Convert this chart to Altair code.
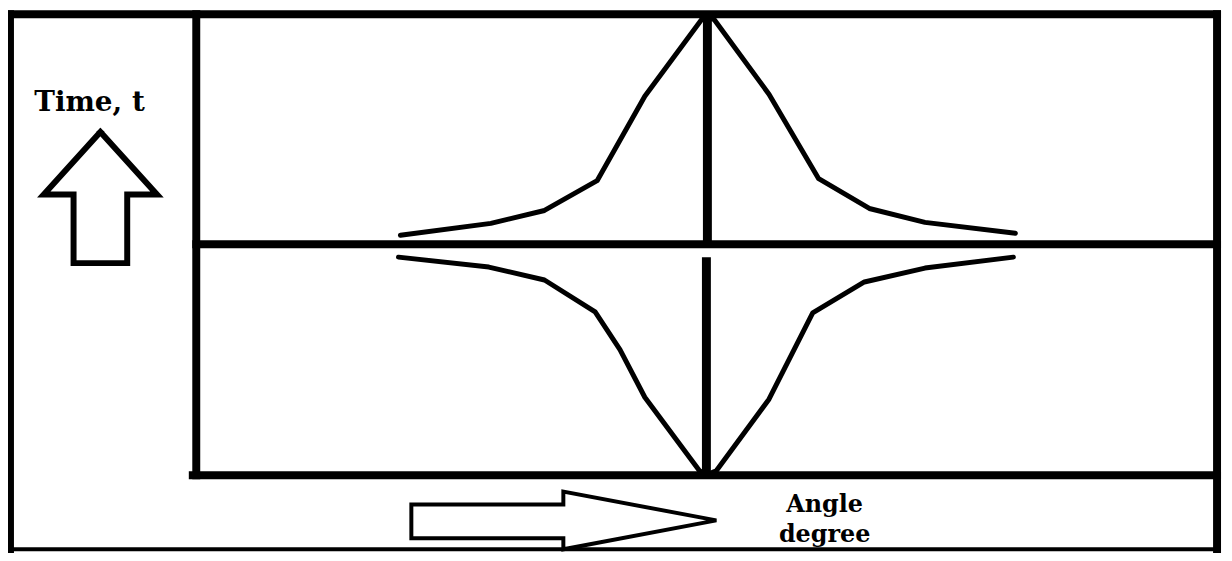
import altair as alt
import pandas as pd

# ---- diagram values (reference pixel units: x = angle axis, y = time axis, downward) ----
# peaked profile, upper half (time increasing toward the centre angle)
top_left_x = [403, 494, 548, 601, 649, 706, 712]
top_left_y = [235, 223, 210, 180, 95, 18, 15]
top_right_x = [712, 719, 774, 824, 875, 931, 1022]
top_right_y = [15, 18, 93, 178, 208, 222, 233]
# mirrored profile, lower half
bot_left_x = [401, 492, 548, 599, 624, 649, 704, 711]
bot_left_y = [257, 267, 280, 312, 350, 398, 472, 476]
bot_right_x = [711, 721, 774, 818, 870, 931, 1020]
bot_right_y = [476, 472, 400, 313, 282, 268, 257]

# frame segments: (x, x2, y, y2)
thick_x = [10, 10, 1225, 197.5, 197.5, 194]
thick_x2 = [10, 1225, 1225, 197.5, 1225, 1225]
thick_y = [12.5, 12.5, 12.5, 12.5, 244, 476.5]
thick_y2 = [551, 12.5, 551, 476.5, 244, 476.5]
thin_x = [10]
thin_x2 = [1225]
thin_y = [551]
thin_y2 = [551]

# centre stems (zero angle)
stem_x = [712, 711]
stem_y = [15, 257]
stem_y2 = [244, 476]

# outline arrows
up_arrow_x = [101, 158, 128, 128, 74, 74, 44, 101]
up_arrow_y = [131, 194, 194, 263, 263, 194, 194, 131]
right_arrow_x = [414, 567, 567, 721, 567, 567, 414, 414]
right_arrow_y = [506, 506, 493, 522, 551, 540, 540, 506]

# labels
time_text = ["Time, t"]
time_x = [90]
time_y = [110]
angle_text = ["Angle", "degree"]
angle_x = [830, 830]
angle_y = [514, 544]

# ---- scales ----
xs = alt.Scale(domain=[8, 1232], nice=False, zero=False)
ys = alt.Scale(domain=[8, 553], nice=False, zero=False, reverse=True)


def seg_chart(xa, xb, ya, yb, w):
    df = pd.DataFrame({"x": xa, "x2": xb, "y": ya, "y2": yb})
    return alt.Chart(df).mark_rule(color="black", strokeWidth=w, strokeCap="square").encode(
        x=alt.X("x:Q", scale=xs, axis=None),
        x2="x2:Q",
        y=alt.Y("y:Q", scale=ys, axis=None),
        y2="y2:Q",
    )


def path_chart(px, py, w, join="round", cap="round"):
    df = pd.DataFrame({"x": px, "y": py, "i": list(range(len(px)))})
    return alt.Chart(df).mark_line(color="black", strokeWidth=w, strokeJoin=join, strokeCap=cap).encode(
        x=alt.X("x:Q", scale=xs, axis=None),
        y=alt.Y("y:Q", scale=ys, axis=None),
        order=alt.Order("i:Q"),
    )


def text_chart(t, tx, ty, size):
    df = pd.DataFrame({"t": t, "x": tx, "y": ty})
    return alt.Chart(df).mark_text(
        font="DejaVu Serif", fontWeight="bold", fontSize=size, color="black",
        align="center", baseline="alphabetic",
    ).encode(
        x=alt.X("x:Q", scale=xs, axis=None),
        y=alt.Y("y:Q", scale=ys, axis=None),
        text="t:N",
    )


frame_thick = seg_chart(thick_x, thick_x2, thick_y, thick_y2, 8)
frame_thin = seg_chart(thin_x, thin_x2, thin_y, thin_y2, 4)

stems_df = pd.DataFrame({"x": stem_x, "y": stem_y, "y2": stem_y2})
stems = alt.Chart(stems_df).mark_rule(color="black", strokeWidth=9, strokeCap="butt").encode(
    x=alt.X("x:Q", scale=xs, axis=None),
    y=alt.Y("y:Q", scale=ys, axis=None),
    y2="y2:Q",
)

curves = [
    path_chart(top_left_x, top_left_y, 5),
    path_chart(top_right_x, top_right_y, 5),
    path_chart(bot_left_x, bot_left_y, 5),
    path_chart(bot_right_x, bot_right_y, 5),
]

up_arrow = path_chart(up_arrow_x, up_arrow_y, 6, join="miter", cap="square")
right_arrow = path_chart(right_arrow_x, right_arrow_y, 4, join="miter", cap="square")

labels_time = text_chart(time_text, time_x, time_y, 28)
labels_angle = text_chart(angle_text, angle_x, angle_y, 24)

chart = alt.layer(
    frame_thick, frame_thin, stems, *curves, up_arrow, right_arrow, labels_time, labels_angle
).properties(
    width=1224, height=545, padding=0,
    autosize=alt.AutoSizeParams(type="none"),
    background="white",
).configure_view(stroke=None)

chart.save("out.html", embed_options={"renderer": "svg", "actions": False})
